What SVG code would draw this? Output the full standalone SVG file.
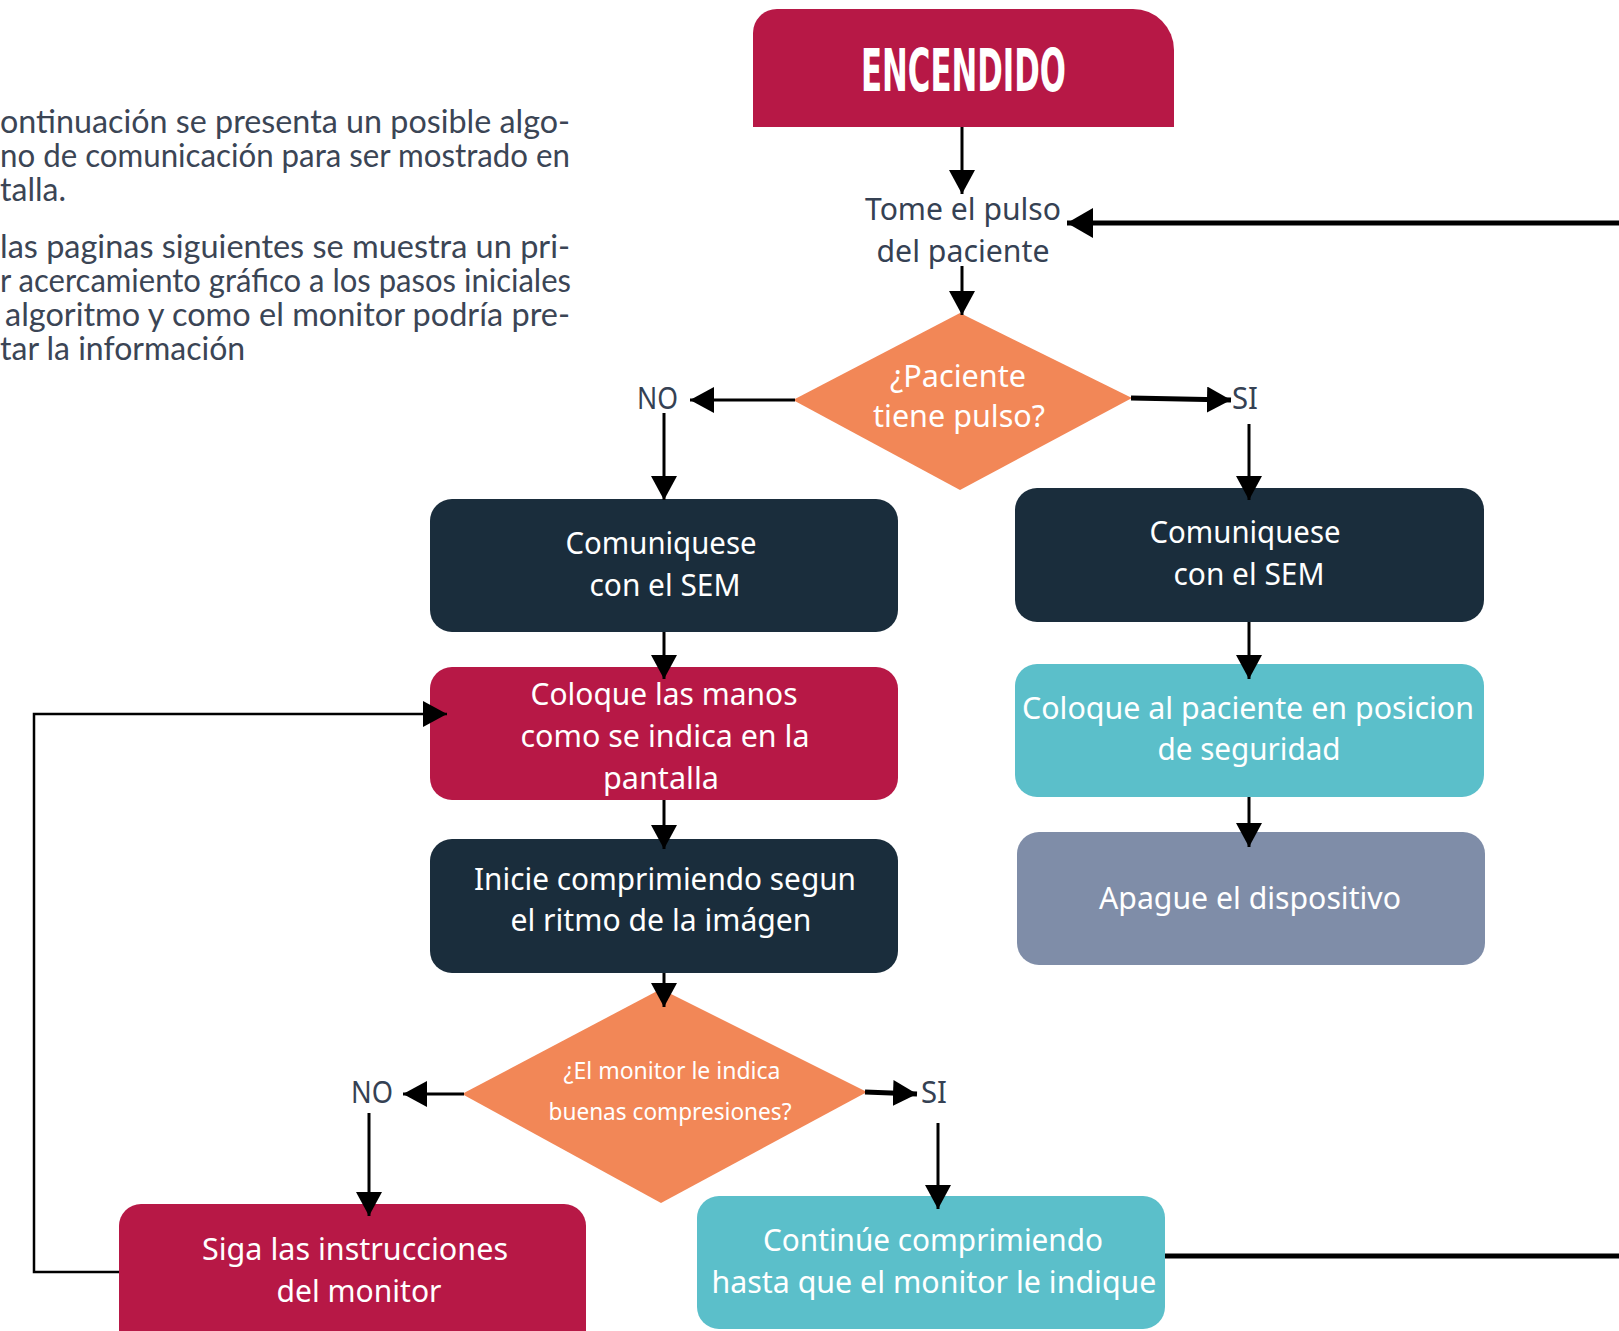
<svg xmlns="http://www.w3.org/2000/svg" width="1619" height="1331" viewBox="0 0 1619 1331">
  <defs>
    <style>
      .lbl { font-family: "Noto Sans", "Open Sans", sans-serif; font-size: 31px; fill: #ffffff; text-anchor: middle; }
      .small { font-size: 24px; }
      .dark { fill: #354153; }
      .para { font-family: Lato, "Noto Sans", sans-serif; font-size: 32px; fill: #3b4555; }
      .navy { fill: #1a2d3c; }
      .crimson { fill: #b71846; }
      .teal { fill: #5bbfca; }
      .slate { fill: #7f8da8; }
      .orange { fill: #f28757; }
      .wire { fill: none; stroke: #000000; stroke-width: 3; }
      .thick { stroke-width: 5; }
      .thin { stroke-width: 2.5; }
    </style>
    <marker id="head" markerUnits="userSpaceOnUse" viewBox="0 0 24 26" refX="24" refY="13" markerWidth="24" markerHeight="26" orient="auto">
      <path d="M0,0 L24,13 L0,26 Z" fill="#000000"/>
    </marker>
    <marker id="headBig" markerUnits="userSpaceOnUse" viewBox="0 0 26 30" refX="26" refY="15" markerWidth="26" markerHeight="30" orient="auto">
      <path d="M0,0 L26,15 L0,30 Z" fill="#000000"/>
    </marker>
  </defs>

  <rect width="1619" height="1331" fill="#ffffff"/>

  <!-- introductory paragraph -->
  <g id="intro">
    <text class="para" x="0" y="133" textLength="570" lengthAdjust="spacingAndGlyphs">ontinuación se presenta un posible algo-</text>
    <text class="para" x="0" y="167" textLength="570" lengthAdjust="spacingAndGlyphs">no de comunicación para ser mostrado en</text>
    <text class="para" x="0" y="201">talla.</text>
    <text class="para" x="0" y="258" textLength="570" lengthAdjust="spacingAndGlyphs">las paginas siguientes se muestra un pri-</text>
    <text class="para" x="0" y="292" textLength="571" lengthAdjust="spacingAndGlyphs">r acercamiento gráfico a los pasos iniciales</text>
    <text class="para" x="5" y="326" textLength="565" lengthAdjust="spacingAndGlyphs">algoritmo y como el monitor podría pre-</text>
    <text class="para" x="0" y="360">tar la información</text>
  </g>

  <!-- start -->
  <g id="encendido">
    <path class="crimson" d="M753,127 L753,33 A24,24 0 0 1 777,9 L1133,9 A41,41 0 0 1 1174,50 L1174,127 Z"/>
    <text x="963.5" y="91" font-family="'DejaVu Sans Condensed', 'DejaVu Sans', sans-serif" font-weight="700" font-size="58" fill="#ffffff" text-anchor="middle" textLength="205" lengthAdjust="spacingAndGlyphs">ENCENDIDO</text>
  </g>

  <g id="tome-pulso">
    <text class="lbl dark" x="963" y="220" textLength="196" lengthAdjust="spacingAndGlyphs">Tome el pulso</text>
    <text class="lbl dark" x="963" y="262" textLength="173" lengthAdjust="spacingAndGlyphs">del paciente</text>
  </g>

  <g id="decision-pulso">
    <polygon class="orange" points="960,313 1132,398 960,490 793,400"/>
    <text class="lbl" x="958" y="387" textLength="136" lengthAdjust="spacingAndGlyphs">¿Paciente</text>
    <text class="lbl" x="959" y="427" textLength="172" lengthAdjust="spacingAndGlyphs">tiene pulso?</text>
  </g>

  <g id="label-no-1">
    <text class="lbl dark" x="657.5" y="409" textLength="41" lengthAdjust="spacingAndGlyphs">NO</text>
  </g>
  <g id="label-si-1">
    <text class="lbl dark" x="1245" y="409" textLength="26" lengthAdjust="spacingAndGlyphs">SI</text>
  </g>

  <g id="sem-left">
    <rect class="navy" x="430" y="499" width="468" height="133" rx="22"/>
    <text class="lbl" x="661" y="554" textLength="191" lengthAdjust="spacingAndGlyphs">Comuniquese</text>
    <text class="lbl" x="665" y="596" textLength="151" lengthAdjust="spacingAndGlyphs">con el SEM</text>
  </g>

  <g id="manos">
    <rect class="crimson" x="430" y="667" width="468" height="133" rx="22"/>
    <text class="lbl" x="664" y="705" textLength="267" lengthAdjust="spacingAndGlyphs">Coloque las manos</text>
    <text class="lbl" x="665" y="747" textLength="289" lengthAdjust="spacingAndGlyphs">como se indica en la</text>
    <text class="lbl" x="661" y="789" textLength="116" lengthAdjust="spacingAndGlyphs">pantalla</text>
  </g>

  <g id="inicie">
    <rect class="navy" x="430" y="839" width="468" height="134" rx="22"/>
    <text class="lbl" x="665" y="890" textLength="382" lengthAdjust="spacingAndGlyphs">Inicie comprimiendo segun</text>
    <text class="lbl" x="661" y="931" textLength="301" lengthAdjust="spacingAndGlyphs">el ritmo de la imágen</text>
  </g>

  <g id="decision-compresiones">
    <polygon class="orange" points="661,989 867,1092 661,1203 462,1094"/>
    <text class="lbl small" x="672" y="1079" textLength="217" lengthAdjust="spacingAndGlyphs">¿El monitor le indica</text>
    <text class="lbl small" x="670" y="1120" textLength="243" lengthAdjust="spacingAndGlyphs">buenas compresiones?</text>
  </g>

  <g id="label-no-2">
    <text class="lbl dark" x="372" y="1103" textLength="42" lengthAdjust="spacingAndGlyphs">NO</text>
  </g>
  <g id="label-si-2">
    <text class="lbl dark" x="934" y="1103" textLength="26" lengthAdjust="spacingAndGlyphs">SI</text>
  </g>

  <g id="siga">
    <rect class="crimson" x="119" y="1204" width="467" height="150" rx="22"/>
    <text class="lbl" x="355" y="1260" textLength="306" lengthAdjust="spacingAndGlyphs">Siga las instrucciones</text>
    <text class="lbl" x="359" y="1302" textLength="165" lengthAdjust="spacingAndGlyphs">del monitor</text>
  </g>

  <g id="continue">
    <rect class="teal" x="697" y="1196" width="468" height="133" rx="22"/>
    <text class="lbl" x="933" y="1251" textLength="340" lengthAdjust="spacingAndGlyphs">Continúe comprimiendo</text>
    <text class="lbl" x="934" y="1293" textLength="445" lengthAdjust="spacingAndGlyphs">hasta que el monitor le indique</text>
  </g>

  <g id="sem-right">
    <rect class="navy" x="1015" y="488" width="469" height="134" rx="22"/>
    <text class="lbl" x="1245" y="543" textLength="191" lengthAdjust="spacingAndGlyphs">Comuniquese</text>
    <text class="lbl" x="1249" y="585" textLength="151" lengthAdjust="spacingAndGlyphs">con el SEM</text>
  </g>

  <g id="seguridad">
    <rect class="teal" x="1015" y="664" width="469" height="133" rx="22"/>
    <text class="lbl" x="1248" y="719" textLength="452" lengthAdjust="spacingAndGlyphs">Coloque al paciente en posicion</text>
    <text class="lbl" x="1249" y="760" textLength="183" lengthAdjust="spacingAndGlyphs">de seguridad</text>
  </g>

  <g id="apague">
    <rect class="slate" x="1017" y="832" width="468" height="133" rx="22"/>
    <text class="lbl" x="1250" y="909" textLength="302" lengthAdjust="spacingAndGlyphs">Apague el dispositivo</text>
  </g>

  <!-- connectors, drawn last so the arrowheads sit over the shapes -->
  <g id="connectors">
    <line class="wire" x1="962" y1="127" x2="962" y2="194" marker-end="url(#head)"/>
    <line class="wire" x1="962" y1="266" x2="962" y2="315" marker-end="url(#head)"/>
    <line class="wire" x1="795" y1="400" x2="690" y2="400" marker-end="url(#head)"/>
    <line class="wire" x1="664" y1="413" x2="664" y2="500" marker-end="url(#head)"/>
    <line class="wire thick" x1="1131" y1="398" x2="1231" y2="400" marker-end="url(#head)"/>
    <line class="wire" x1="1249" y1="424" x2="1249" y2="500" marker-end="url(#head)"/>
    <line class="wire" x1="664" y1="632" x2="664" y2="679" marker-end="url(#head)"/>
    <line class="wire" x1="664" y1="800" x2="664" y2="849" marker-end="url(#head)"/>
    <line class="wire" x1="664" y1="973" x2="664" y2="1007" marker-end="url(#head)"/>
    <line class="wire" x1="1249" y1="622" x2="1249" y2="679" marker-end="url(#head)"/>
    <line class="wire" x1="1249" y1="797" x2="1249" y2="847" marker-end="url(#head)"/>
    <line class="wire" x1="464" y1="1094" x2="403" y2="1094" marker-end="url(#head)"/>
    <line class="wire" x1="369" y1="1113" x2="369" y2="1216" marker-end="url(#head)"/>
    <line class="wire thick" x1="865" y1="1092" x2="917" y2="1094" marker-end="url(#head)"/>
    <line class="wire" x1="938" y1="1123" x2="938" y2="1209" marker-end="url(#head)"/>
    <polyline class="wire thin" points="119,1272 34,1272 34,714 447,714" marker-end="url(#head)"/>
    <line class="wire thick" x1="1165" y1="1256" x2="1619" y2="1256"/>
    <line class="wire thick" x1="1619" y1="223" x2="1067" y2="223" marker-end="url(#headBig)"/>
  </g>
</svg>
